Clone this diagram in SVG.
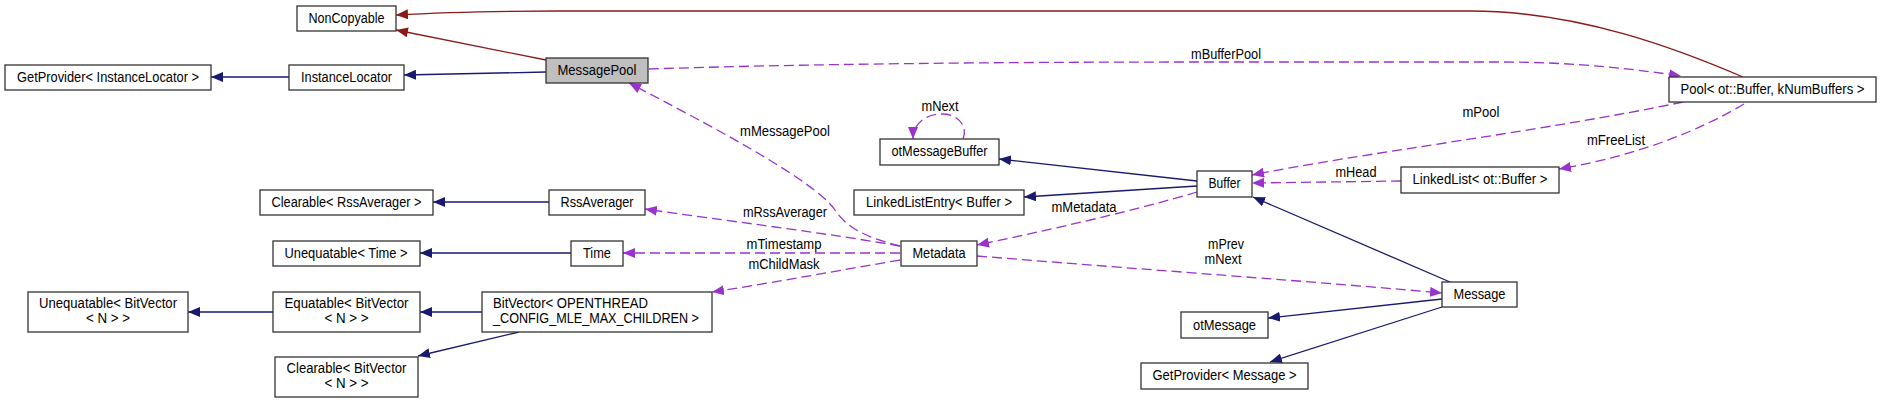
<svg xmlns="http://www.w3.org/2000/svg" width="1881" height="403" viewBox="0 0 1881 403">
<style>
.n rect{fill:#ffffff;stroke:#333333;stroke-width:1.3}
.n.sel rect{fill:#bfbfbf}
text{font-family:"Liberation Sans",Arial,Helvetica,sans-serif;font-size:14px;fill:#000000}
.c{text-anchor:middle}
.l{text-anchor:start}
.e path{fill:none;stroke-width:1.3}
.inh{stroke:#191970}
.prv{stroke:#8b1a1a}
.use{stroke:#9a32cd;stroke-dasharray:10,5}
</style>
<defs>
<marker id="aB" viewBox="0 0 12 10" refX="12" refY="5" markerWidth="12" markerHeight="10" markerUnits="userSpaceOnUse" orient="auto"><path d="M0,0 L12,5 L0,10 z" fill="#191970" stroke="none"/></marker>
<marker id="aR" viewBox="0 0 12 10" refX="12" refY="5" markerWidth="12" markerHeight="10" markerUnits="userSpaceOnUse" orient="auto"><path d="M0,0 L12,5 L0,10 z" fill="#8b1a1a" stroke="none"/></marker>
<marker id="aP" viewBox="0 0 12 10" refX="12" refY="5" markerWidth="12" markerHeight="10" markerUnits="userSpaceOnUse" orient="auto"><path d="M0,0 L12,5 L0,10 z" fill="#9a32cd" stroke="none"/></marker>
</defs>
<rect x="0" y="0" width="1881" height="403" fill="#ffffff"/>

<g id="connectors" class="e">
<path class="inh" d="M289,77 L211,77" marker-end="url(#aB)"/>
<path class="inh" d="M546,72 L404,75" marker-end="url(#aB)"/>
<path class="inh" d="M549,202 L433,202" marker-end="url(#aB)"/>
<path class="inh" d="M571,253 L420,253" marker-end="url(#aB)"/>
<path class="inh" d="M273,312 L188,312" marker-end="url(#aB)"/>
<path class="inh" d="M482,312 L420,312" marker-end="url(#aB)"/>
<path class="inh" d="M519,332 L418,356" marker-end="url(#aB)"/>
<path class="inh" d="M1197,181 L999,159" marker-end="url(#aB)"/>
<path class="inh" d="M1197,186 L1024,197" marker-end="url(#aB)"/>
<path class="inh" d="M1450,282 L1253,197" marker-end="url(#aB)"/>
<path class="inh" d="M1442,299 L1268,318" marker-end="url(#aB)"/>
<path class="inh" d="M1442,307 L1270,362" marker-end="url(#aB)"/>
<path class="prv" d="M546,60 L396,30" marker-end="url(#aR)"/>
<path class="prv" d="M1743,77 C1680,50 1580,11 1470,11 L560,11 C480,11 430,13 396,15" marker-end="url(#aR)"/>
<path class="use" d="M649,69 C800,64 1000,62 1200,62 L1500,62 C1580,62 1640,70 1681,76" marker-end="url(#aP)"/>
<path class="use" d="M900,246 C870,238 848,230 835,210 C815,180 700,120 629,83" marker-end="url(#aP)"/>
<path class="use" d="M900,246 C820,232 720,220 645,209" marker-end="url(#aP)"/>
<path class="use" d="M900,253 L623,253" marker-end="url(#aP)"/>
<path class="use" d="M900,260 C830,272 760,285 712,292" marker-end="url(#aP)"/>
<path class="use" d="M1197,192 C1130,212 1040,232 977,245" marker-end="url(#aP)"/>
<path class="use" d="M963,139 C968,128 960,114 942,114 C925,114 913,124 913,139" marker-end="url(#aP)"/>
<path class="use" d="M1683,102 C1550,130 1350,155 1252,175" marker-end="url(#aP)"/>
<path class="use" d="M1744,104 C1700,130 1640,155 1559,169" marker-end="url(#aP)"/>
<path class="use" d="M1401,181 L1252,183" marker-end="url(#aP)"/>
<path class="use" d="M977,256 C1150,270 1320,282 1442,293" marker-end="url(#aP)"/>
<text class="c" x="1226" y="59" textLength="70" lengthAdjust="spacingAndGlyphs">mBufferPool</text>
<text class="c" x="940" y="111" textLength="37" lengthAdjust="spacingAndGlyphs">mNext</text>
<text class="c" x="785" y="136" textLength="90" lengthAdjust="spacingAndGlyphs">mMessagePool</text>
<text class="c" x="1481" y="117" textLength="37" lengthAdjust="spacingAndGlyphs">mPool</text>
<text class="c" x="1616" y="145" textLength="58" lengthAdjust="spacingAndGlyphs">mFreeList</text>
<text class="c" x="1356" y="177" textLength="41" lengthAdjust="spacingAndGlyphs">mHead</text>
<text class="c" x="1084" y="212" textLength="65" lengthAdjust="spacingAndGlyphs">mMetadata</text>
<text class="c" x="785" y="217" textLength="84" lengthAdjust="spacingAndGlyphs">mRssAverager</text>
<text class="c" x="784" y="249" textLength="75" lengthAdjust="spacingAndGlyphs">mTimestamp</text>
<text class="c" x="784" y="269" textLength="71" lengthAdjust="spacingAndGlyphs">mChildMask</text>
<text class="c" x="1226" y="249" textLength="36" lengthAdjust="spacingAndGlyphs">mPrev</text>
<text class="c" x="1223" y="264" textLength="37" lengthAdjust="spacingAndGlyphs">mNext</text>
</g>

<g id="NonCopyable" class="n"><rect x="297" y="6" width="99" height="25"/><text class="c" x="346.5" y="23" textLength="76" lengthAdjust="spacingAndGlyphs">NonCopyable</text></g>
<g id="GetProviderInstanceLocator" class="n"><rect x="5" y="65" width="206" height="25"/><text class="c" x="108" y="82" textLength="182" lengthAdjust="spacingAndGlyphs">GetProvider&lt; InstanceLocator &gt;</text></g>
<g id="InstanceLocator" class="n"><rect x="289" y="65" width="115" height="25"/><text class="c" x="346.5" y="82" textLength="91" lengthAdjust="spacingAndGlyphs">InstanceLocator</text></g>
<g id="MessagePool" class="n sel"><rect x="546" y="58" width="102" height="25"/><text class="c" x="597" y="75" textLength="79" lengthAdjust="spacingAndGlyphs">MessagePool</text></g>
<g id="ClearableRssAverager" class="n"><rect x="260" y="190" width="173" height="25"/><text class="c" x="346.5" y="207" textLength="150" lengthAdjust="spacingAndGlyphs">Clearable&lt; RssAverager &gt;</text></g>
<g id="RssAverager" class="n"><rect x="549" y="190" width="96" height="25"/><text class="c" x="597" y="207" textLength="73" lengthAdjust="spacingAndGlyphs">RssAverager</text></g>
<g id="UnequatableTime" class="n"><rect x="273" y="241" width="147" height="25"/><text class="c" x="346" y="258" textLength="123" lengthAdjust="spacingAndGlyphs">Unequatable&lt; Time &gt;</text></g>
<g id="Time" class="n"><rect x="571" y="241" width="52" height="25"/><text class="c" x="597" y="258" textLength="28" lengthAdjust="spacingAndGlyphs">Time</text></g>
<g id="UnequatableBitVector" class="n"><rect x="28" y="292" width="160" height="40"/><text class="c" x="108" y="308" textLength="138" lengthAdjust="spacingAndGlyphs">Unequatable&lt; BitVector</text><text class="c" x="108" y="323" textLength="44" lengthAdjust="spacingAndGlyphs">&lt; N &gt; &gt;</text></g>
<g id="EquatableBitVector" class="n"><rect x="273" y="292" width="147" height="40"/><text class="c" x="346.5" y="308" textLength="124" lengthAdjust="spacingAndGlyphs">Equatable&lt; BitVector</text><text class="c" x="346.5" y="323" textLength="44" lengthAdjust="spacingAndGlyphs">&lt; N &gt; &gt;</text></g>
<g id="BitVector" class="n"><rect x="482" y="292" width="230" height="40"/><text class="l" x="493" y="308" textLength="155" lengthAdjust="spacingAndGlyphs">BitVector&lt; OPENTHREAD</text><text class="l" x="493" y="323" textLength="206" lengthAdjust="spacingAndGlyphs">_CONFIG_MLE_MAX_CHILDREN &gt;</text></g>
<g id="ClearableBitVector" class="n"><rect x="275" y="357" width="143" height="40"/><text class="c" x="346.5" y="373" textLength="120" lengthAdjust="spacingAndGlyphs">Clearable&lt; BitVector</text><text class="c" x="346.5" y="388" textLength="44" lengthAdjust="spacingAndGlyphs">&lt; N &gt; &gt;</text></g>
<g id="otMessageBuffer" class="n"><rect x="880" y="139" width="119" height="26"/><text class="c" x="939.5" y="156" textLength="96" lengthAdjust="spacingAndGlyphs">otMessageBuffer</text></g>
<g id="LinkedListEntryBuffer" class="n"><rect x="854" y="190" width="170" height="25"/><text class="c" x="939" y="207" textLength="146" lengthAdjust="spacingAndGlyphs">LinkedListEntry&lt; Buffer &gt;</text></g>
<g id="Metadata" class="n"><rect x="901" y="241" width="76" height="25"/><text class="c" x="939" y="258" textLength="53" lengthAdjust="spacingAndGlyphs">Metadata</text></g>
<g id="Buffer" class="n"><rect x="1197" y="171" width="55" height="26"/><text class="c" x="1224.5" y="188" textLength="32" lengthAdjust="spacingAndGlyphs">Buffer</text></g>
<g id="otMessage" class="n"><rect x="1181" y="312" width="87" height="26"/><text class="c" x="1224.5" y="330" textLength="63" lengthAdjust="spacingAndGlyphs">otMessage</text></g>
<g id="GetProviderMessage" class="n"><rect x="1141" y="363" width="167" height="26"/><text class="c" x="1224.5" y="380" textLength="144" lengthAdjust="spacingAndGlyphs">GetProvider&lt; Message &gt;</text></g>
<g id="Pool" class="n"><rect x="1669" y="77" width="207" height="25"/><text class="c" x="1772.5" y="94" textLength="184" lengthAdjust="spacingAndGlyphs">Pool&lt; ot::Buffer, kNumBuffers &gt;</text></g>
<g id="LinkedListBuffer" class="n"><rect x="1401" y="167" width="158" height="26"/><text class="c" x="1480" y="184" textLength="135" lengthAdjust="spacingAndGlyphs">LinkedList&lt; ot::Buffer &gt;</text></g>
<g id="Message" class="n"><rect x="1442" y="282" width="75" height="25"/><text class="c" x="1479.5" y="299" textLength="52" lengthAdjust="spacingAndGlyphs">Message</text></g>
</svg>
